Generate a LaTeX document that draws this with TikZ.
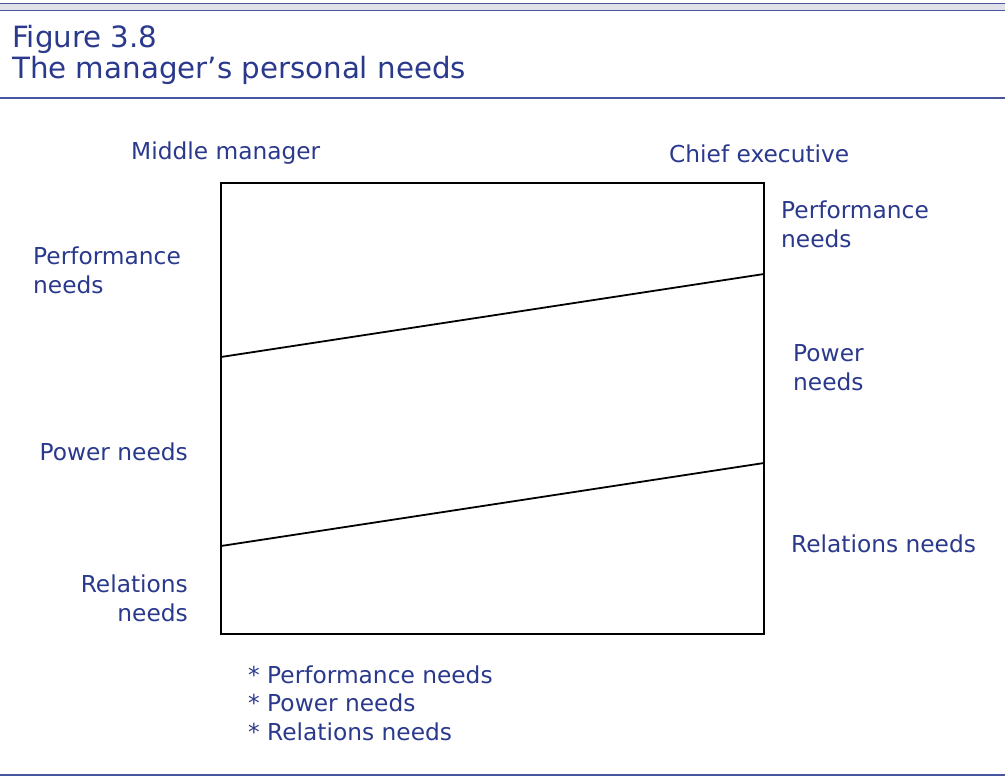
\documentclass[tikz,border=0pt]{standalone}
\usepackage{fontspec}
\setmainfont{DejaVu Sans}
\definecolor{txtblue}{RGB}{42,57,140}
\definecolor{rulecol}{RGB}{72,86,160}
\definecolor{bandcol}{RGB}{224,226,232}
\begin{document}
\begin{tikzpicture}[x=1pt,y=-1pt,
  lbl/.style={inner sep=0pt, text=txtblue, font=\fontsize{23.3}{28.5}\selectfont},
  lblL/.style={lbl, anchor=base west, align=left},
  lblR/.style={lbl, anchor=base east, align=right},
  ttl/.style={inner sep=0pt, text=txtblue, font=\fontsize{29.3}{31}\selectfont, anchor=base west},
  boxedge/.style={draw=black, line width=2.2pt},
  needline/.style={draw=black, line width=1.8pt},
  hrule/.style={draw=rulecol, line width=1.4pt}]
\useasboundingbox (0,0) rectangle (1005,776);
% top band
\fill[bandcol] (0,3) rectangle (1005,10.5);
\draw[hrule] (0,3.3) -- (1005,3.3);
\draw[hrule] (0,10.5) -- (1005,10.5);
% title
\node[ttl] (fig) at (12,48) {Figure 3.8};
\node[ttl] (title) at (12,79) {The manager’s personal needs};
\draw[hrule, line width=1.2pt] (0,98) -- (1005,98);
\draw[hrule] (0,775) -- (1005,775);
% box
\coordinate (tl) at (221,183);
\coordinate (br) at (764,634);
\draw[boxedge] (tl) rectangle (br);
\coordinate (pl) at (221,357);
\coordinate (pr) at (764,274);
\coordinate (rl) at (221,546);
\coordinate (rr) at (764,463);
\draw[needline] (pl) -- (pr);
\draw[needline] (rl) -- (rr);
% labels (multi-line nodes: base = baseline of last line)
\node[lblL] (mm) at (131,159) {Middle manager};
\node[lblL] (ce) at (669,162) {Chief executive};
\node[lblL] (perfL) at (33,293) {Performance\\needs};
\node[lblR] (powL) at (188,460) {Power needs};
\node[lblR] (relL) at (188,621) {Relations\\needs};
\node[lblL] (perfR) at (781,247) {Performance\\needs};
\node[lblL] (powR) at (793,390) {Power\\needs};
\node[lblL] (relR) at (791,552) {Relations needs};
\node[lblL] (list) at (248,740) {* Performance needs\\* Power needs\\* Relations needs};
\end{tikzpicture}
\end{document}
